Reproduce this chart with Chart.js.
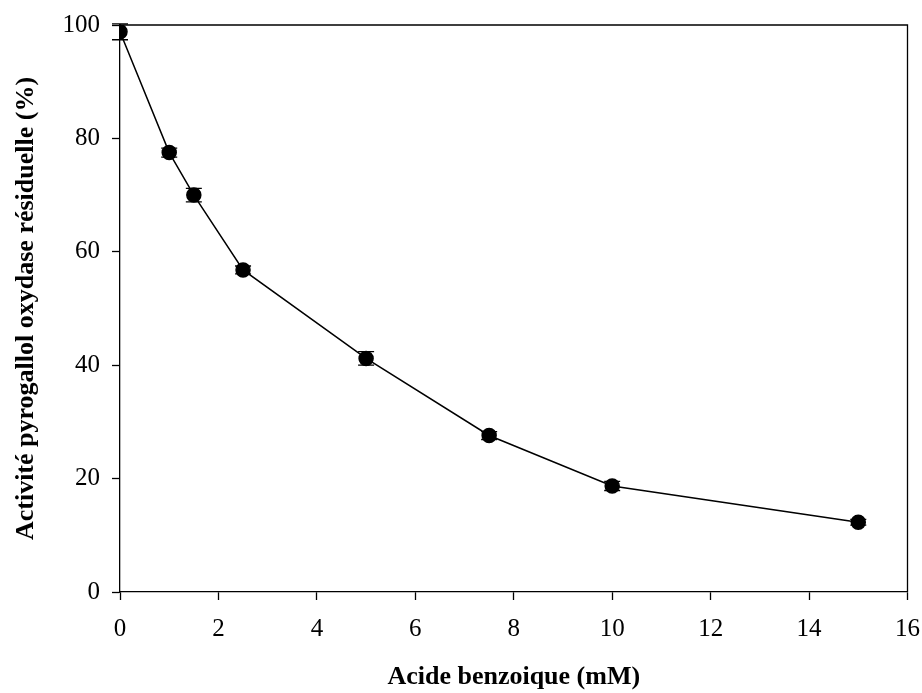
<!DOCTYPE html>
<html>
<head>
<meta charset="utf-8">
<script src="https://cdn.jsdelivr.net/npm/chart.js@4"></script>
<style>
  body { margin: 0; background: #fff; }
</style>
</head>
<body>
<canvas id="myChart" width="922" height="693"></canvas>
<script>
// Data
const concentrations = [0, 1, 1.5, 2.5, 5, 7.5, 10, 15];
const activity = [98.8, 77.5, 70.0, 56.8, 41.2, 27.6, 18.7, 12.3];
const errors = [1.4, 0.8, 1.2, 0.7, 1.2, 0.7, 0.8, 0.5];

const fontFamily = '"Liberation Serif", "Times New Roman", serif';

// error bars drawn with the chart's own scales
const errorBars = {
    id: 'errorBars',
    beforeDatasetsDraw(chart) {
        const ctx = chart.ctx;
        const xs = chart.scales.x;
        const ys = chart.scales.y;
        ctx.save();
        ctx.strokeStyle = '#000';
        ctx.lineWidth = 1.3;
        concentrations.forEach((c, i) => {
            const px = xs.getPixelForValue(c);
            const top = ys.getPixelForValue(activity[i] + errors[i]);
            const bot = ys.getPixelForValue(activity[i] - errors[i]);
            ctx.beginPath();
            ctx.moveTo(px, top);
            ctx.lineTo(px, bot);
            ctx.moveTo(px - 8, top);
            ctx.lineTo(px + 8, top);
            ctx.moveTo(px - 8, bot);
            ctx.lineTo(px + 8, bot);
            ctx.stroke();
        });
        ctx.restore();
    }
};

// top and right frame lines
const frame = {
    id: 'frame',
    afterDraw(chart) {
        const a = chart.chartArea;
        const ctx = chart.ctx;
        ctx.save();
        ctx.strokeStyle = '#000';
        ctx.lineWidth = 1.3;
        ctx.beginPath();
        ctx.moveTo(a.left, a.top);
        ctx.lineTo(a.right, a.top);
        ctx.lineTo(a.right, a.bottom);
        ctx.stroke();
        ctx.restore();
    }
};

const ctx = document.getElementById('myChart').getContext('2d');
new Chart(ctx, {
    type: 'line',
    data: {
        datasets: [{
            data: concentrations.map((c, i) => ({ x: c, y: activity[i] })),
            borderColor: '#000',
            borderWidth: 1.5,
            backgroundColor: '#000',
            pointBackgroundColor: '#000',
            pointBorderColor: '#000',
            pointRadius: 7,
            pointHoverRadius: 7,
            tension: 0
        }]
    },
    options: {
        responsive: false,
        animation: false,
        layout: {
            padding: { top: 25, right: 14.5, bottom: 0, left: 0 }
        },
        plugins: {
            legend: { display: false },
            tooltip: { enabled: false }
        },
        scales: {
            x: {
                type: 'linear',
                min: 0,
                max: 16,
                afterFit(scale) {
                    scale.height = 101;
                    scale.paddingLeft = 0;
                    scale.paddingRight = 0;
                },
                ticks: {
                    stepSize: 2,
                    color: '#000',
                    padding: 14,
                    font: { family: fontFamily, size: 25 }
                },
                grid: {
                    drawOnChartArea: false,
                    tickLength: 8,
                    tickColor: '#000',
                    tickWidth: 1.3
                },
                border: { color: '#000', width: 1.3 },
                title: {
                    display: true,
                    text: 'Acide benzoique (mM)',
                    color: '#000',
                    padding: { top: 0, bottom: 0 },
                    font: { family: fontFamily, size: 26, weight: 'bold' }
                }
            },
            y: {
                min: 0,
                max: 100,
                afterFit(scale) {
                    scale.width = 120;
                    scale.paddingTop = 0;
                    scale.paddingBottom = 0;
                },
                ticks: {
                    stepSize: 20,
                    color: '#000',
                    padding: 12,
                    font: { family: fontFamily, size: 25 }
                },
                grid: {
                    drawOnChartArea: false,
                    tickLength: 8,
                    tickColor: '#000',
                    tickWidth: 1.3
                },
                border: { color: '#000', width: 1.3 },
                title: {
                    display: true,
                    text: 'Activité pyrogallol oxydase résiduelle (%)',
                    color: '#000',
                    padding: { top: 11, bottom: 0 },
                    font: { family: fontFamily, size: 26, weight: 'bold' }
                }
            }
        }
    },
    plugins: [errorBars, frame]
});
</script>
</body>
</html>
